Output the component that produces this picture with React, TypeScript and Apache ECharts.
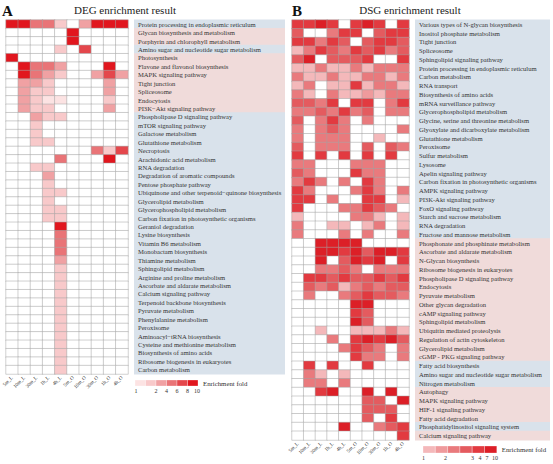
import React, { useEffect, useRef } from "react";
import * as echarts from "echarts";

const samples = ["5m_L", "10m_L", "30m_L", "1h_L", "4h_L", "5m_O", "10m_O", "30m_O", "1h_O", "4h_O"];

// ---------- Panel A: DEG ----------
const pathwaysA = [
  "Protein processing in endoplasmic reticulum",
  "Glycan biosynthesis and metabolism",
  "Porphyrin and chlorophyll metabolism",
  "Amino sugar and nucleotide sugar metabolism",
  "Photosynthesis",
  "Flavone and flavonol biosynthesis",
  "MAPK signaling pathway",
  "Tight junction",
  "Spliceosome",
  "Endocytosis",
  "PI3K−Akt signaling pathway",
  "Phospholipase D signaling pathway",
  "mTOR signaling pathway",
  "Galactose metabolism",
  "Glutathione metabolism",
  "Necroptosis",
  "Arachidonic acid metabolism",
  "RNA degradation",
  "Degradation of aromatic compounds",
  "Pentose phosphate pathway",
  "Ubiquinone and other terpenoid−quinone biosynthesis",
  "Glycerolipid metabolism",
  "Glycerophospholipid metabolism",
  "Carbon fixation in photosynthetic organisms",
  "Geraniol degradation",
  "Lysine biosynthesis",
  "Vitamin B6 metabolism",
  "Monobactam biosynthesis",
  "Thiamine metabolism",
  "Sphingolipid metabolism",
  "Arginine and proline metabolism",
  "Ascorbate and aldarate metabolism",
  "Calcium signaling pathway",
  "Terpenoid backbone biosynthesis",
  "Pyruvate metabolism",
  "Phenylalanine metabolism",
  "Peroxisome",
  "Aminoacyl−tRNA biosynthesis",
  "Cysteine and methionine metabolism",
  "Biosynthesis of amino acids",
  "Ribosome biogenesis in eukaryotes",
  "Carbon metabolism",
];
// b = blue band, p = pink band
const groupA = [
  "b", "p", "p", "b", "p", "p", "p", "p", "p", "p", "p",
  "b", "b", "b", "b", "b", "b", "b", "b", "b", "b", "b", "b", "b", "b", "b", "b", "b", "b", "b",
  "b", "b", "b", "b", "b", "b", "b", "b", "b", "b", "b", "b",
];
const foldA = [
  [9, 9, 5, 5, 1.8, 0, 3.5, 9, 9, 9],
  [0, 0, 0, 0, 0, 9, 0, 0, 0, 0],
  [0, 0, 0, 0, 0, 9, 0, 0, 0, 0],
  [0, 0, 0, 0, 1.8, 0, 7, 0, 0, 0],
  [9, 0, 0, 0, 0, 0, 0, 0, 0, 0],
  [0, 9, 5, 5, 3, 0, 0, 0, 9, 0],
  [0, 9, 5, 3, 1.8, 0, 0, 3.5, 7, 3.5],
  [0, 3, 3, 1.8, 0, 0, 0, 0, 3.5, 0],
  [0, 3, 1.8, 1.8, 0, 0, 0, 0, 3, 0],
  [0, 3, 1.8, 1.3, 1.3, 0, 0, 0, 1.8, 0],
  [0, 3, 1.8, 1.8, 0, 0, 0, 0, 3, 0],
  [0, 0, 3, 1.8, 1.8, 0, 0, 0, 0, 0],
  [0, 0, 1.8, 0, 0, 0, 0, 0, 0, 0],
  [0, 0, 1.8, 0, 0, 0, 0, 0, 0, 0],
  [0, 0, 1.8, 1.8, 0, 0, 0, 0, 0, 0],
  [0, 0, 0, 0, 0, 0, 0, 5, 1.8, 7],
  [0, 0, 0, 0, 4, 0, 0, 0, 9, 0],
  [0, 0, 1.8, 1.8, 0, 0, 0, 0, 0, 0],
  [0, 0, 0, 3.5, 0, 0, 0, 0, 0, 0],
  [0, 0, 0, 1.8, 0, 0, 0, 0, 0, 0],
  [0, 0, 0, 1.8, 1.8, 0, 0, 0, 0, 0],
  [0, 0, 0, 1.8, 0, 0, 0, 0, 0, 0],
  [0, 0, 0, 1.8, 1.8, 0, 0, 0, 0, 0],
  [0, 0, 0, 1.8, 1.8, 0, 0, 0, 0, 0],
  [0, 0, 0, 0, 9, 0, 0, 0, 0, 0],
  [0, 0, 0, 0, 5, 0, 0, 0, 0, 0],
  [0, 0, 0, 0, 4.5, 0, 0, 0, 0, 0],
  [0, 0, 0, 0, 4, 0, 0, 0, 0, 0],
  [0, 0, 0, 0, 3, 0, 0, 0, 0, 0],
  [0, 0, 0, 0, 1.8, 0, 0, 0, 0, 0],
  [0, 0, 0, 0, 1.8, 0, 0, 0, 0, 0],
  [0, 0, 0, 0, 1.8, 0, 0, 0, 0, 0],
  [0, 0, 0, 0, 1.8, 0, 0, 0, 0, 0],
  [0, 0, 0, 0, 1.8, 0, 0, 0, 0, 0],
  [0, 0, 0, 0, 1.8, 0, 0, 0, 0, 0],
  [0, 0, 0, 0, 1.8, 0, 0, 0, 0, 0],
  [0, 0, 0, 0, 1.8, 0, 0, 0, 0, 0],
  [0, 0, 0, 0, 1.8, 0, 0, 0, 0, 0],
  [0, 0, 0, 0, 1.8, 0, 0, 0, 0, 0],
  [0, 0, 0, 0, 1.8, 0, 0, 0, 0, 0],
  [0, 0, 0, 0, 1.8, 0, 0, 0, 0, 0],
  [0, 0, 0, 0, 1.8, 0, 0, 0, 0, 0],
];
const breaksA = [1, 1.5, 2, 4, 6, 8, 10];
const colorsA = ["#fce3e3", "#f8c9ca", "#f0a1a3", "#e97477", "#e4474c", "#e1161e"];
const tickLabelsA = ["1", "2", "4", "6", "8", "10"];

// ---------- Panel B: DSG ----------
const pathwaysB = [
  "Various types of N-glycan biosynthesis",
  "Inositol phosphate metabolism",
  "Tight junction",
  "Spliceosome",
  "Sphingolipid signaling pathway",
  "Protein processing in endoplasmic reticulum",
  "Carbon metabolism",
  "RNA transport",
  "Biosynthesis of amino acids",
  "mRNA surveillance pathway",
  "Glycerophospholipid metabolism",
  "Glycine, serine and threonine metabolism",
  "Glyoxylate and dicarboxylate metabolism",
  "Glutathione metabolism",
  "Peroxisome",
  "Sulfur metabolism",
  "Lysosome",
  "Apelin signaling pathway",
  "Carbon fixation in photosynthetic organisms",
  "AMPK signaling pathway",
  "PI3K-Akt signaling pathway",
  "FoxO signaling pathway",
  "Starch and sucrose metabolism",
  "RNA degradation",
  "Fructose and mannose metabolism",
  "Phosphonate and phosphinate metabolism",
  "Ascorbate and aldarate metabolism",
  "N-Glycan biosynthesis",
  "Ribosome biogenesis in eukaryotes",
  "Phospholipase D signaling pathway",
  "Endocytosis",
  "Pyruvate metabolism",
  "Other glycan degradation",
  "cAMP signaling pathway",
  "Sphingolipid metabolism",
  "Ubiquitin mediated proteolysis",
  "Regulation of actin cytoskeleton",
  "Glycerolipid metabolism",
  "cGMP - PKG signaling pathway",
  "Fatty acid biosynthesis",
  "Amino sugar and nucleotide sugar metabolism",
  "Nitrogen metabolism",
  "Autophagy",
  "MAPK signaling pathway",
  "HIF-1 signaling pathway",
  "Fatty acid degradation",
  "Phosphatidylinositol signaling system",
  "Calcium signaling pathway",
];
const groupB = [
  "b", "b", "b", "b", "b", "b", "b", "b", "b", "b", "b", "b", "b", "b", "b", "b", "b", "b", "b", "b", "b", "b", "b", "b", "b",
  "p", "p", "p", "p", "p", "p", "p", "p", "p", "p", "p", "p", "p", "p",
  "b", "b", "b",
  "p", "p", "p", "p",
  "b",
  "p",
];
const foldB = [
  [5.5, 5.5, 8.5, 5.5, 0, 5.5, 8.5, 5.5, 0, 5.5],
  [3.5, 0, 0, 2.5, 5.5, 5.5, 0, 3.5, 5.5, 5.5],
  [5.5, 5.5, 2.5, 5.5, 3.5, 0, 3.5, 5.5, 5.5, 3.5],
  [1.3, 2.5, 5.5, 3.5, 2.5, 5.5, 3.5, 5.5, 2.5, 3.5],
  [3.5, 8.5, 0, 3.5, 3.5, 3.5, 5.5, 0, 0, 5.5],
  [1.3, 1.3, 2.5, 1.3, 1.3, 2.5, 1.3, 2.5, 2.5, 2.5],
  [2.5, 1.3, 1.3, 2.5, 1.3, 1.3, 2.5, 2.5, 1.3, 2.5],
  [1.3, 2.5, 0, 1.3, 1.3, 5.5, 1.3, 2.5, 2.5, 1.3],
  [2.5, 1.3, 0, 2.5, 1.3, 1.3, 1.8, 1.3, 2.5, 2.5],
  [3.5, 3.5, 2.5, 5.5, 0, 5.5, 5.5, 0, 2.5, 5.5],
  [2.5, 2.5, 3.5, 2.5, 5.5, 2.5, 3.5, 0, 2.5, 2.5],
  [3.5, 0, 2.5, 5.5, 2.5, 0, 2.5, 0, 0, 0],
  [2.5, 0, 2.5, 3.5, 2.5, 0, 0, 0, 0, 2.5],
  [2.5, 0, 2.5, 2.5, 2.5, 0, 0, 1.3, 0, 0],
  [3.5, 0, 2.5, 2.5, 2.5, 0, 3.5, 0, 3.5, 2.5],
  [5.5, 0, 5.5, 0, 5.5, 0, 5.5, 0, 5.5, 0],
  [2.5, 2.5, 0, 0, 0, 2.5, 2.5, 2.5, 0, 0],
  [3.5, 2.5, 0, 0, 0, 5.5, 2.5, 2.5, 0, 0],
  [2.5, 5.5, 2.5, 0, 2.5, 0, 5.5, 2.5, 0, 0],
  [5.5, 2.5, 0, 0, 0, 2.5, 5.5, 2.5, 0, 2.5],
  [5.5, 5.5, 0, 2.5, 0, 0, 5.5, 5.5, 0, 1.3],
  [5.5, 0, 0, 0, 2.5, 2.5, 5.5, 3.5, 2.5, 0],
  [1.3, 0, 0, 0, 0, 2.5, 2.5, 1.3, 0, 1.3],
  [2.5, 0, 0, 1.3, 1.3, 0, 1.3, 2.5, 0, 1.3],
  [2.5, 0, 0, 0, 2.5, 0, 2.5, 0, 0, 2.5],
  [0, 0, 8.5, 8.5, 8.5, 8.5, 0, 0, 0, 0],
  [0, 0, 8.5, 8.5, 5.5, 8.5, 3.5, 8.5, 8.5, 5.5],
  [0, 0, 8.5, 0, 3.5, 8.5, 5.5, 8.5, 0, 5.5],
  [0, 0, 2.5, 2.5, 3.5, 2.5, 0, 2.5, 2.5, 2.5],
  [0, 5.5, 5.5, 3.5, 5.5, 3.5, 3.5, 5.5, 3.5, 5.5],
  [0, 3.5, 2.5, 3.5, 1.3, 2.5, 3.5, 2.5, 3.5, 3.5],
  [0, 2.5, 0, 0, 2.5, 3.5, 5.5, 3.5, 3.5, 2.5],
  [0, 0, 0, 0, 0, 8.5, 8.5, 0, 0, 0],
  [0, 0, 0, 0, 0, 5.5, 3.5, 0, 0, 0],
  [0, 0, 0, 0, 0, 8.5, 3.5, 0, 0, 0],
  [0, 0, 1.3, 0, 0, 1.3, 1.3, 1.3, 2.5, 1.3],
  [0, 0, 0, 2.5, 0, 5.5, 8.5, 5.5, 8.5, 3.5],
  [0, 0, 0, 0, 2.5, 5.5, 3.5, 2.5, 0, 2.5],
  [0, 0, 0, 0, 0, 5.5, 2.5, 2.5, 0, 2.5],
  [0, 5.5, 0, 5.5, 0, 0, 5.5, 0, 0, 0],
  [0, 2.5, 1.3, 0, 1.3, 0, 0, 0, 0, 0],
  [0, 2.5, 2.5, 0, 2.5, 0, 0, 0, 0, 0],
  [0, 0, 5.5, 8.5, 0, 0, 8.5, 0, 8.5, 0],
  [0, 0, 0, 0, 0, 0, 3.5, 3.5, 0, 8.5],
  [0, 0, 0, 0, 0, 0, 3.5, 3.5, 3.5, 0],
  [0, 0, 0, 0, 0, 0, 3.5, 0, 5.5, 0],
  [0, 0, 0, 0, 8.5, 0, 0, 2.5, 3.5, 5.5],
  [0, 0, 0, 0, 0, 0, 0, 0, 0, 5.5],
];
const breaksB = [1, 1.5, 2, 3, 4, 7, 10];
const colorsB = ["#f4b8ba", "#ef9a9c", "#e97a7d", "#e45b5f", "#e23a40", "#dc1f27"];
const tickLabelsB = ["1", "2", "3", "4", "7", "10"];

// ---------- styling / layout ----------
const SERIF = "'Liberation Serif', 'Times New Roman', serif";
const BLUE = "#d9e2eb";
const PINK = "#f0dbda";
const TEXT = "#333";

const layoutA = { left: 2, top: 20, width: 126, height: 354, bandWidth: 147 };
const layoutB = { left: 292, top: 20, width: 124, height: 420, bandWidth: 131 };
const legendA = { x: 135, y: 380, boxW: 10.5, boxH: 6, labelX: [136, 156, 166.5, 177, 187.5, 197] };
const legendB = { x: 423, y: 446, boxW: 12.3, boxH: 7, labelX: [423.5, 445.5, 472.5, 480, 487, 495] };

function cells(m: number[][]) {
  const out: number[][] = [];
  m.forEach((row, y) => row.forEach((v, x) => out.push([x, y, v])));
  return out;
}

function pieces(breaks: number[], colors: string[]) {
  const p: any[] = [{ lt: 0.5, color: "#ffffff" }];
  colors.forEach((c, i) => {
    if (i === colors.length - 1) p.push({ gte: breaks[i], color: c });
    else p.push({ gte: breaks[i], lt: breaks[i + 1], color: c });
  });
  return p;
}

function legendGraphics(lg: any, colors: string[], labels: string[]) {
  const els: any[] = [];
  colors.forEach((c, i) => {
    els.push({
      type: "rect",
      shape: { x: lg.x + i * lg.boxW, y: lg.y, width: lg.boxW, height: lg.boxH },
      style: { fill: c, stroke: "#ffffff", lineWidth: 0.3 },
    });
  });
  els.push({
    type: "text",
    x: lg.x + colors.length * lg.boxW + 5,
    y: lg.y + lg.boxH / 2,
    style: { text: "Enrichment fold", font: `6.8px ${SERIF}`, fill: TEXT, verticalAlign: "middle" },
  });
  labels.forEach((t, i) => {
    els.push({
      type: "text",
      x: lg.labelX[i],
      y: lg.y + lg.boxH + 2,
      style: { text: t, font: `6px ${SERIF}`, fill: TEXT, align: "center", verticalAlign: "top" },
    });
  });
  return els;
}

function yAxisFor(names: string[], groups: string[], gridIndex: number, lay: any, rowH: number) {
  const band = (bg: string) => ({
    backgroundColor: bg,
    width: lay.bandWidth,
    height: rowH + 1,
    lineHeight: rowH + 1,
    padding: [0, 0, 0, 4],
    fontSize: 6.6,
    fontFamily: SERIF,
    color: TEXT,
  });
  return {
    type: "category",
    gridIndex,
    data: names,
    inverse: true,
    position: "right",
    axisLine: { show: false },
    axisTick: { show: false },
    axisLabel: {
      interval: 0,
      margin: 6,
      formatter: (v: string, i: number) => `{${groups[i]}|${v}}`,
      rich: { b: band(BLUE), p: band(PINK) },
    },
  };
}

function xAxisFor(gridIndex: number) {
  return {
    type: "category",
    gridIndex,
    data: samples,
    position: "bottom",
    axisLine: { show: false },
    axisTick: { show: false },
    axisLabel: { interval: 0, rotate: 45, fontSize: 5, fontFamily: SERIF, color: TEXT, margin: 3 },
  };
}

function buildOption() {
  const rowHA = layoutA.height / pathwaysA.length;
  const rowHB = layoutB.height / pathwaysB.length;
  const cellStyle = { borderColor: "#a3a3a3", borderWidth: 0.5 };
  return {
    animation: false,
    backgroundColor: "#ffffff",
    grid: [
      { left: layoutA.left, top: layoutA.top, width: layoutA.width, height: layoutA.height },
      { left: layoutB.left, top: layoutB.top, width: layoutB.width, height: layoutB.height },
    ],
    xAxis: [xAxisFor(0), xAxisFor(1)],
    yAxis: [
      yAxisFor(pathwaysA, groupA, 0, layoutA, rowHA),
      yAxisFor(pathwaysB, groupB, 1, layoutB, rowHB),
    ],
    visualMap: [
      { type: "piecewise", show: false, seriesIndex: 0, dimension: 2, pieces: pieces(breaksA, colorsA) },
      { type: "piecewise", show: false, seriesIndex: 1, dimension: 2, pieces: pieces(breaksB, colorsB) },
    ],
    series: [
      {
        type: "heatmap",
        xAxisIndex: 0,
        yAxisIndex: 0,
        data: cells(foldA),
        itemStyle: cellStyle,
        emphasis: { disabled: true },
      },
      {
        type: "heatmap",
        xAxisIndex: 1,
        yAxisIndex: 1,
        data: cells(foldB),
        itemStyle: cellStyle,
        emphasis: { disabled: true },
      },
    ],
    graphic: [
      { type: "text", x: 2, y: 3, style: { text: "A", font: `bold 15px ${SERIF}`, fill: "#111" } },
      { type: "text", x: 292, y: 3, style: { text: "B", font: `bold 15px ${SERIF}`, fill: "#111" } },
      {
        type: "text", x: 125, y: 10,
        style: { text: "DEG enrichment result", font: `11px ${SERIF}`, fill: "#222", align: "center", verticalAlign: "middle" },
      },
      {
        type: "text", x: 410, y: 10,
        style: { text: "DSG enrichment result", font: `11px ${SERIF}`, fill: "#222", align: "center", verticalAlign: "middle" },
      },
      ...legendGraphics(legendA, colorsA, tickLabelsA),
      ...legendGraphics(legendB, colorsB, tickLabelsB),
    ],
  };
}

export default function App() {
  const ref = useRef<HTMLDivElement>(null);
  useEffect(() => {
    const chart = echarts.init(ref.current!, null, { renderer: "svg" });
    chart.setOption(buildOption() as any);
    return () => chart.dispose();
  }, []);
  return (
    <div
      ref={ref}
      style={{ position: "absolute", left: 0, top: 0, width: 553, height: 464, background: "#fff" }}
    />
  );
}
